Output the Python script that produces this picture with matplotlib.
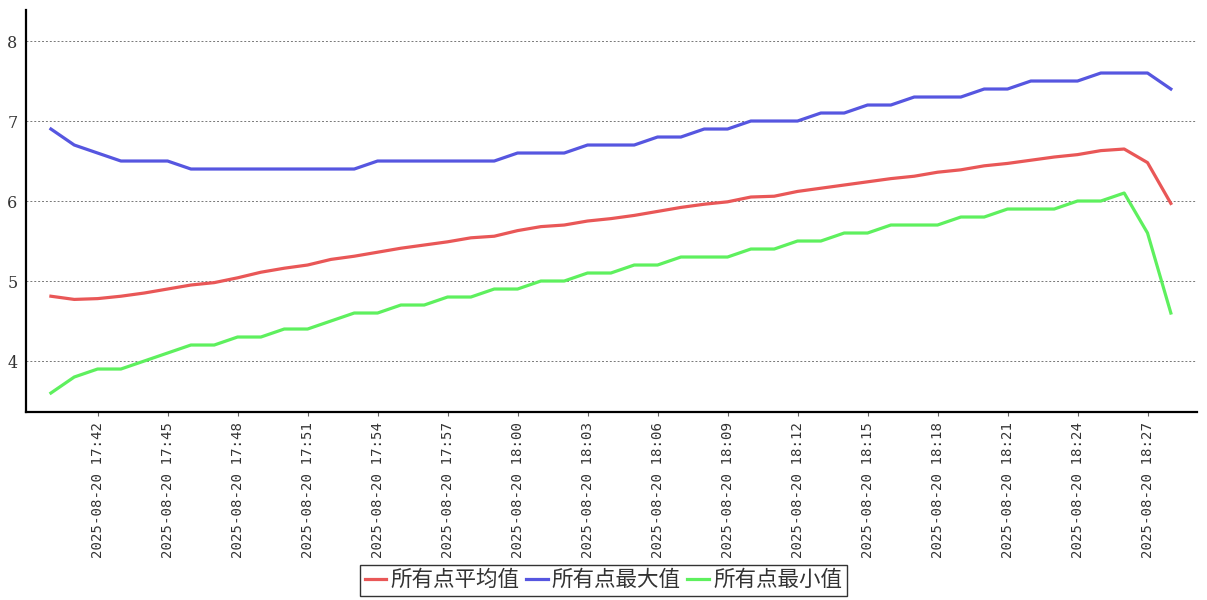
import matplotlib
matplotlib.use("Agg")
import matplotlib.pyplot as plt

plt.rcParams['font.family'] = ['Noto Sans CJK SC', 'DejaVu Sans']

# one sample per minute, 2025-08-20 17:40 .. 18:28
times = [f"2025-08-20 {17 + (40 + i) // 60}:{(40 + i) % 60:02d}" for i in range(49)]

avg_vals = [4.81, 4.77, 4.78, 4.81, 4.85, 4.90, 4.95, 4.98, 5.04, 5.11,
            5.16, 5.20, 5.27, 5.31, 5.36, 5.41, 5.45, 5.49, 5.54, 5.56,
            5.63, 5.68, 5.70, 5.75, 5.78, 5.82, 5.87, 5.92, 5.96, 5.99,
            6.05, 6.06, 6.12, 6.16, 6.20, 6.24, 6.28, 6.31, 6.36, 6.39,
            6.44, 6.47, 6.51, 6.55, 6.58, 6.63, 6.65, 6.48, 5.97]
max_vals = [6.9, 6.7, 6.6, 6.5, 6.5, 6.5, 6.4, 6.4, 6.4, 6.4,
            6.4, 6.4, 6.4, 6.4, 6.5, 6.5, 6.5, 6.5, 6.5, 6.5,
            6.6, 6.6, 6.6, 6.7, 6.7, 6.7, 6.8, 6.8, 6.9, 6.9,
            7.0, 7.0, 7.0, 7.1, 7.1, 7.2, 7.2, 7.3, 7.3, 7.3,
            7.4, 7.4, 7.5, 7.5, 7.5, 7.6, 7.6, 7.6, 7.4]
min_vals = [3.6, 3.8, 3.9, 3.9, 4.0, 4.1, 4.2, 4.2, 4.3, 4.3,
            4.4, 4.4, 4.5, 4.6, 4.6, 4.7, 4.7, 4.8, 4.8, 4.9,
            4.9, 5.0, 5.0, 5.1, 5.1, 5.2, 5.2, 5.3, 5.3, 5.3,
            5.4, 5.4, 5.5, 5.5, 5.6, 5.6, 5.7, 5.7, 5.7, 5.8,
            5.8, 5.9, 5.9, 5.9, 6.0, 6.0, 6.1, 5.6, 4.6]

series = [
    ("所有点平均值", avg_vals, "#e95757"),
    ("所有点最大值", max_vals, "#5656e0"),
    ("所有点最小值", min_vals, "#5ef05e"),
]

text_color = "#333333"

fig = plt.figure(figsize=(12.07, 6.0), dpi=100)
ax = fig.add_axes([0.0215, 0.3133, 0.9702, 0.67])

x = list(range(len(times)))
for name, vals, color in series:
    ax.plot(x, vals, color=color, lw=2.3, label=name, solid_joinstyle="round")

ax.set_xlim(-1.07, 49.12)
ax.set_ylim(3.3625, 8.3875)

ax.set_yticks([4, 5, 6, 7, 8])
ax.set_yticklabels(["4", "5", "6", "7", "8"], family="DejaVu Serif",
                   fontsize=11.5, color=text_color)
ax.tick_params(axis="y", length=0, pad=6)

tick_idx = x[2::3]
ax.set_xticks(tick_idx)
ax.set_xticklabels([times[i] for i in tick_idx], rotation=90,
                   family="DejaVu Sans Mono", fontsize=10.2, color=text_color)
ax.tick_params(axis="x", length=3, width=0.8, color="#666666", pad=4)

ax.grid(axis="y", color="#777777", ls=(0, (2, 2)), lw=0.7)
for side in ("top", "right"):
    ax.spines[side].set_visible(False)
for side in ("left", "bottom"):
    ax.spines[side].set_linewidth(1.6)
    ax.spines[side].set_color("black")

leg = fig.legend(loc="lower center", bbox_to_anchor=(0.5, 0.0), ncol=3,
                 frameon=True, fancybox=False, fontsize=15.5,
                 handlelength=1.0, handletextpad=0.2, columnspacing=0.3,
                 borderpad=0.2, borderaxespad=0.2)
leg.get_frame().set_edgecolor("black")
leg.get_frame().set_linewidth(1.0)
for t in leg.get_texts():
    t.set_color(text_color)

fig.savefig("out.png", dpi=100)
